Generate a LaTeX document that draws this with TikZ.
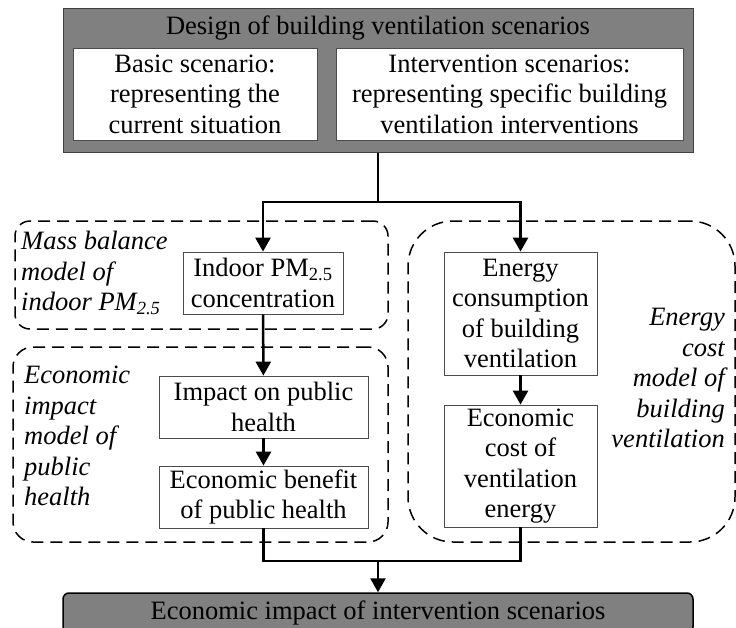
\documentclass[tikz,border=0pt]{standalone}
\usepackage{fontspec}
\setmainfont{Liberation Serif}
\usetikzlibrary{arrows.meta, positioning}

\begin{document}
\begin{tikzpicture}[
    x=1pt, y=-1pt,
    font=\fontsize{26.5}{30.5}\selectfont,
    bigbox/.style={draw=black!75, line width=1pt, fill=black!50, inner sep=0pt},
    box/.style={draw=black!70, line width=0.8pt, fill=white, align=center, inner sep=0pt},
    region/.style={draw, dash pattern=on 12pt off 7pt, line width=1.5pt, inner sep=0pt},
    modeltext/.style={font=\fontsize{26.5}{30.5}\selectfont\itshape, inner sep=0pt},
    link/.style={line width=2.5pt},
    arrow/.style={line width=2.5pt, -{Triangle[length=14pt, width=15pt]}},
]
\clip (0,0) rectangle (736,627);

% Model regions
\node[region, rounded corners=15pt, minimum width=373pt, minimum height=108pt] (massregion) at (201.5,275) {};
\node[region, rounded corners=20pt, minimum width=375pt, minimum height=195pt] (healthregion) at (200.5,444.5) {};
\node[region, rounded corners=45pt, minimum width=327pt, minimum height=321pt] (energyregion) at (571.5,381.5) {};

\node[modeltext, align=left, anchor=west] (masstext) at (21,273) {Mass balance\\model of\\indoor PM\textsubscript{2.5}};
\node[modeltext, align=left, anchor=west] (healthtext) at (24,436) {Economic\\impact\\model of\\public\\health};
\node[modeltext, align=right, anchor=east] (energytext) at (725,378) {Energy\\cost\\model of\\building\\ventilation};

% Scenario design
\node[bigbox, minimum width=630pt, minimum height=144pt] (design) at (378,80) {};
\node (designtext) at (378,28) {Design of building ventilation scenarios};
\node[box, minimum width=244pt, minimum height=92pt] (basic) at (195,94) {Basic scenario:\\representing the\\current situation};
\node[box, minimum width=347pt, minimum height=92pt] (interv) at (509.5,94) {Intervention scenarios:\\representing specific building\\ventilation interventions};

% Health chain
\node[box, minimum width=160pt, minimum height=62pt] (pm) at (263,283) {Indoor PM\textsubscript{2.5}\\concentration};
\node[box, minimum width=209pt, minimum height=62pt] (impact) at (263.5,407) {Impact on public\\health};
\node[box, minimum width=209pt, minimum height=62pt] (benefit) at (263.5,497) {Economic benefit\\of public health};

% Energy chain
\node[box, minimum width=153pt, minimum height=123pt] (energy) at (520.5,313.5) {Energy\\consumption\\of building\\ventilation};
\node[box, minimum width=153pt, minimum height=122pt] (cost) at (520.5,466) {Economic\\cost of\\ventilation\\energy};

% Result
\node[draw=black, line width=1.5pt, fill=black!50, rounded corners=6pt, minimum width=630pt, minimum height=40pt, inner sep=0pt] (outcome) at (378,613) {Economic impact of intervention scenarios};

% Arrows
\coordinate (split) at (378,202);
\coordinate (merge) at (378,561);
\draw[link] (design.south) -- (split);
\draw[arrow] (split) -| (pm.north);
\draw[arrow] (split) -| (energy.north);
\draw[arrow] (pm) -- (impact);
\draw[arrow] (impact) -- (benefit);
\draw[arrow] (energy) -- (cost);
\draw[link] (benefit.south) |- (merge) -| (cost.south);
\draw[arrow] (merge) -- (outcome.north);

\end{tikzpicture}
\end{document}
